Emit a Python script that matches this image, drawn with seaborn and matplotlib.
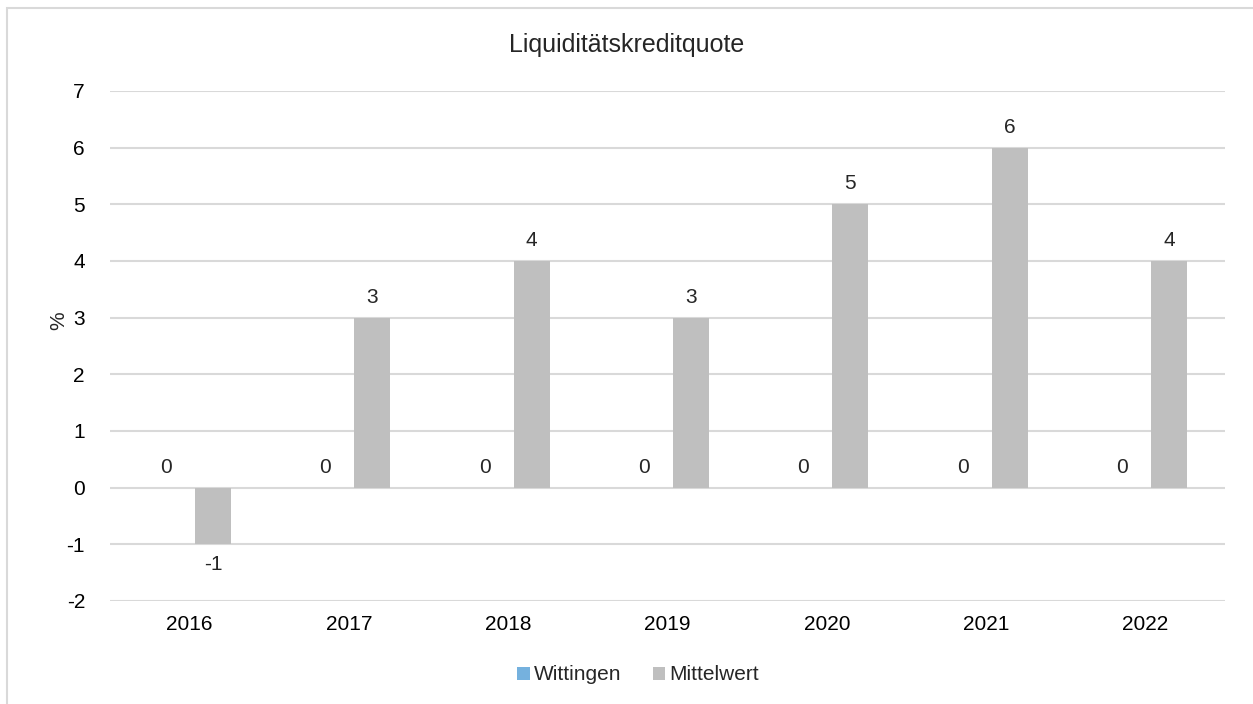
import numpy as np
import pandas as pd
import matplotlib.pyplot as plt
import seaborn as sns
from matplotlib.patches import Rectangle

years = ["2016", "2017", "2018", "2019", "2020", "2021", "2022"]
wittingen = [0, 0, 0, 0, 0, 0, 0]
mittelwert = [-1, 3, 4, 3, 5, 6, 4]
series = ["Wittingen", "Mittelwert"]
colors = ["#63B3F0", "#BFBFBF"]

df = pd.DataFrame({
    "Jahr": years * 2,
    "Wert": wittingen + mittelwert,
    "Reihe": [series[0]] * len(years) + [series[1]] * len(years),
})

sns.set_style("white")
plt.rcParams["font.family"] = ["Liberation Sans", "DejaVu Sans"]
plt.rcParams["axes.unicode_minus"] = False

fig = plt.figure(figsize=(12.53, 7.04), dpi=100)
ax = fig.add_axes([110 / 1253, 103 / 704, 1115 / 1253, 510 / 704])

sns.barplot(data=df, x="Jahr", y="Wert", hue="Reihe", palette=colors,
            width=0.59, gap=0.234, linewidth=0, ax=ax, legend=True,
            errorbar=None)

# frame around the chart area (cut off on right/bottom like the original)
fig.patches.append(Rectangle((7 / 1253, -0.1), 1.2, (704 - 8) / 704 + 0.1,
                             transform=fig.transFigure, fill=False,
                             edgecolor="#D9D9D9", linewidth=1.5))

ax.set_ylim(-2, 7)
ax.set_xlim(-0.5, 6.5)
ax.set_yticks(range(-2, 8))
ax.yaxis.grid(True, color="#D9D9D9", linewidth=1.5)
ax.set_axisbelow(True)
for s in ax.spines.values():
    s.set_visible(False)
ax.tick_params(axis="both", length=0, labelsize=15, colors="#000000")
ax.tick_params(axis="y", pad=18)
ax.tick_params(axis="x", pad=10)
ax.set_xlabel("")
ax.set_ylabel("%", fontsize=15)
ax.yaxis.set_label_coords(-0.037, 0.55)

for cont in ax.containers:
    ax.bar_label(cont, fmt="{:.0f}", padding=8, fontsize=15)

fig.text(0.5, 1 - 45 / 704, "Liquiditätskreditquote", fontsize=18,
         ha="center", va="center")

handles, labels = ax.get_legend_handles_labels()
ax.get_legend().remove()
fig.legend(handles, labels, loc="center", bbox_to_anchor=(638 / 1253, 1 - 675 / 704),
           ncol=2, frameon=False, fontsize=15, handlelength=0.6,
           handleheight=0.6, handletextpad=0.2, columnspacing=1.5,
           borderaxespad=0)

fig.savefig("out.png", dpi=100, facecolor="white")
